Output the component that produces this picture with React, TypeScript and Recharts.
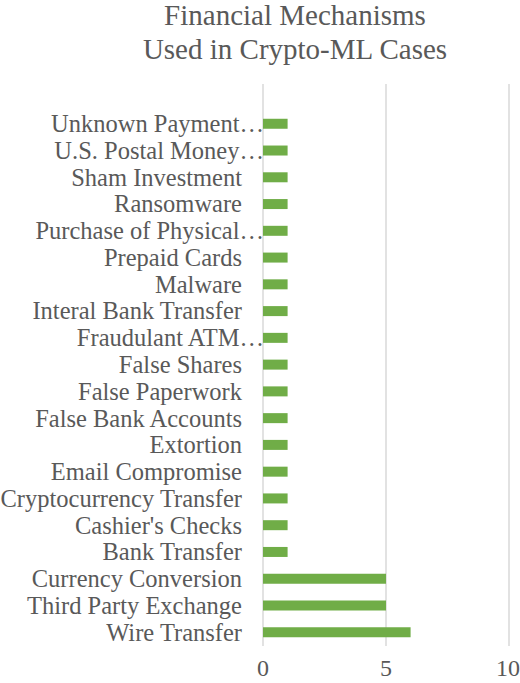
import { BarChart, Bar, XAxis, YAxis, CartesianGrid } from 'recharts'

// top to bottom, the first slot is left empty like in the source
const mechanisms = [
  '',
  'Unknown Payment…',
  'U.S. Postal Money…',
  'Sham Investment',
  'Ransomware',
  'Purchase of Physical…',
  'Prepaid Cards',
  'Malware',
  'Interal Bank Transfer',
  'Fraudulant ATM…',
  'False Shares',
  'False Paperwork',
  'False Bank Accounts',
  'Extortion',
  'Email Compromise',
  'Cryptocurrency Transfer',
  "Cashier's Checks",
  'Bank Transfer',
  'Currency Conversion',
  'Third Party Exchange',
  'Wire Transfer',
]
const caseCounts = [null, 1, 1, 1, 1, 1, 1, 1, 1, 1, 1, 1, 1, 1, 1, 1, 1, 1, 5, 5, 6]
const xTicks = [0, 5, 10]

const data = mechanisms.map((name, i) => ({ name, cases: caseCounts[i] }))

const FONT = "'Liberation Serif'"
const GREY = '#595959'

// Excel lets the clipped labels run up to the axis, the others stop short of it
function CategoryTick({ y, payload }: any) {
  const label: string = payload.value
  const cut = label.endsWith('…')
  return (
    <text
      x={cut ? 264 : 242}
      y={y}
      dy={8}
      textAnchor="end"
      fill={GREY}
      style={{ fontFamily: FONT, fontSize: 24.5 }}
    >
      {label}
    </text>
  )
}

export default function App() {
  return (
    <div style={{ position: 'absolute', left: 0, top: 0, width: 520, height: 683, background: '#fff', fontFamily: FONT }}>
      <div
        style={{
          position: 'absolute',
          left: 95,
          width: 400,
          top: -2,
          textAlign: 'center',
          fontFamily: FONT,
          fontSize: 29,
          lineHeight: '34px',
          color: GREY,
        }}
      >
        Financial Mechanisms
        <br />
        Used in Crypto-ML Cases
      </div>
      <BarChart
        width={520}
        height={683}
        data={data}
        layout="vertical"
        margin={{ top: 84, right: 11, bottom: 0, left: 0 }}
        barCategoryGap={0}
        style={{ fontFamily: FONT }}
      >
        <CartesianGrid horizontal={false} stroke="#d9d9d9" strokeWidth={1.5} />
        <XAxis
          type="number"
          domain={[0, 10]}
          ticks={xTicks}
          axisLine={false}
          tickLine={false}
          height={37}
          tick={{ fill: GREY, fontSize: 24, dy: 5 }}
        />
        <YAxis
          type="category"
          dataKey="name"
          width={263}
          axisLine={false}
          tickLine={false}
          interval={0}
          tick={<CategoryTick />}
        />
        <Bar dataKey="cases" fill="#70ad47" barSize={10} isAnimationActive={false} />
      </BarChart>
    </div>
  )
}
